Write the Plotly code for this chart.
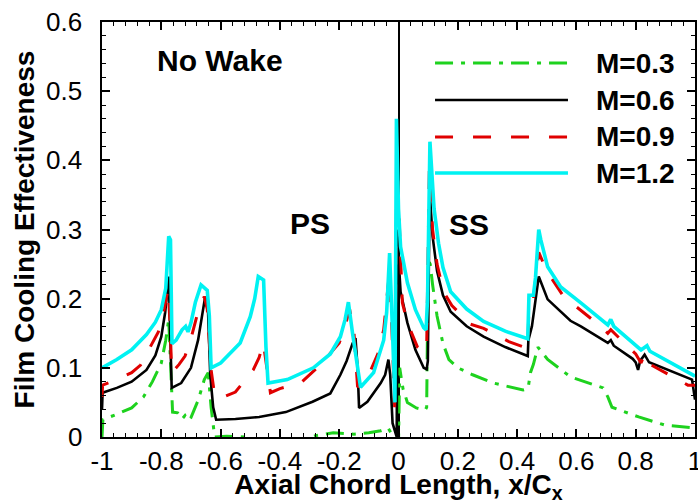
import plotly.graph_objects as go

# ---------------- data ----------------
x_m03 = [-1.0, -0.997, -0.95, -0.9, -0.86, -0.83, -0.80, -0.785, -0.775, -0.768, -0.762, -0.745, -0.73,
         -0.72, -0.71, -0.70, -0.675, -0.655, -0.642, -0.632, -0.62, -0.58, -0.52, -0.45, -0.35, -0.28,
         -0.22, -0.15, -0.10, -0.06, -0.035, -0.02, -0.01, 0.0, 0.004, 0.015, 0.03, 0.06, 0.09, 0.095,
         0.100, 0.107, 0.115, 0.13, 0.15, 0.17, 0.20, 0.25, 0.32, 0.42, 0.437, 0.445, 0.455, 0.47,
         0.503, 0.58, 0.69, 0.706, 0.72, 0.81, 0.9, 1.0]
y_m03 = [0.0, 0.025, 0.033, 0.042, 0.058, 0.08, 0.107, 0.14, 0.17, 0.10, 0.036, 0.035, 0.026,
         0.031, 0.024, 0.028, 0.054, 0.083, 0.093, 0.043, 0.0, 0.001, 0.0, -0.01, -0.01, 0.002,
         0.006, 0.004, 0.006, 0.009, 0.013, 0.002, -0.01, -0.01, 0.10, 0.07, 0.05, 0.042, 0.039, 0.043,
         0.256, 0.25, 0.22, 0.175, 0.135, 0.112, 0.10, 0.09, 0.078, 0.068, 0.07, 0.093, 0.105, 0.13,
         0.112, 0.087, 0.071, 0.058, 0.043, 0.029, 0.017, 0.013]

x_m06 = [-1.0, -0.998, -0.95, -0.9, -0.85, -0.82, -0.80, -0.787, -0.775, -0.77, -0.765, -0.733,
         -0.70, -0.676, -0.652, -0.643, -0.635, -0.625, -0.615, -0.55, -0.47, -0.38, -0.29, -0.23,
         -0.196, -0.175, -0.155, -0.145, -0.138, -0.133, -0.105, -0.06, -0.045, -0.034, -0.028, -0.02,
         -0.006, -0.003, 0.0, 0.007, 0.03, 0.057, 0.085, 0.095, 0.099, 0.105, 0.115, 0.13, 0.15, 0.176,
         0.23, 0.287, 0.36, 0.436, 0.438, 0.45, 0.46, 0.473, 0.503, 0.58, 0.615, 0.706, 0.716, 0.726,
         0.79, 0.80, 0.808, 0.815, 0.83, 0.845, 0.99, 1.0]
y_m06 = [0.04, 0.064, 0.071, 0.080, 0.097, 0.118, 0.145, 0.18, 0.232, 0.15, 0.071, 0.078,
         0.10, 0.14, 0.203, 0.19, 0.09, 0.043, 0.025, 0.026, 0.029, 0.036, 0.051, 0.063,
         0.09, 0.11, 0.135, 0.143, 0.10, 0.042, 0.051, 0.078, 0.09, 0.112, 0.09, 0.02,
         0.0, 0.30, 0.26, 0.21, 0.165, 0.126, 0.10, 0.098, 0.11, 0.355, 0.29, 0.24, 0.205, 0.181,
         0.16, 0.145, 0.13, 0.117, 0.14, 0.16, 0.19, 0.232, 0.199, 0.168, 0.16, 0.136, 0.14, 0.132,
         0.113, 0.108, 0.097, 0.11, 0.119, 0.108, 0.083, 0.054]

x_m09 = [-1.0, -0.998, -0.95, -0.9, -0.87, -0.83, -0.81, -0.79, -0.777, -0.77, -0.765, -0.74, -0.72,
         -0.70, -0.68, -0.655, -0.645, -0.632, -0.62, -0.60, -0.55, -0.49, -0.47, -0.456, -0.445,
         -0.432, -0.40, -0.33, -0.264, -0.2, -0.18, -0.165, -0.15, -0.138, -0.10, -0.07, -0.05, -0.03,
         -0.02, -0.013, -0.005, 0.0, 0.013, 0.03, 0.064, 0.085, 0.095, 0.104, 0.115, 0.13, 0.152, 0.18,
         0.243, 0.287, 0.372, 0.436, 0.44, 0.455, 0.473, 0.5, 0.557, 0.682, 0.706, 0.716, 0.80, 0.818,
         0.83, 0.84, 0.976, 1.0]
y_m09 = [0.058, 0.075, 0.083, 0.093, 0.104, 0.135, 0.152, 0.185, 0.215, 0.16, 0.093, 0.105, 0.117,
         0.142, 0.175, 0.203, 0.185, 0.097, 0.06, 0.056, 0.065, 0.097, 0.115, 0.136, 0.10,
         0.064, 0.07, 0.078, 0.104, 0.136, 0.16, 0.185, 0.15, 0.072, 0.09, 0.12, 0.155, 0.24,
         0.13, 0.043, 0.42, 0.34, 0.194, 0.165, 0.13, 0.122, 0.13, 0.39, 0.30, 0.25, 0.21, 0.19,
         0.163, 0.157, 0.138, 0.128, 0.19, 0.20, 0.267, 0.24, 0.203, 0.16, 0.15, 0.155, 0.12, 0.107,
         0.12, 0.107, 0.075, 0.075]

x_m12 = [-1.0, -0.95, -0.9, -0.85, -0.82, -0.80, -0.785, -0.775, -0.769, -0.764, -0.75, -0.73,
         -0.718, -0.71, -0.70, -0.685, -0.666, -0.645, -0.638, -0.632, -0.60, -0.534, -0.50, -0.485,
         -0.473, -0.455, -0.447, -0.44, -0.375, -0.33, -0.287, -0.23, -0.196, -0.18, -0.169, -0.155,
         -0.128, -0.084, -0.05, -0.04, -0.03, -0.02, -0.012, -0.007, 0.0, 0.007, 0.03, 0.057, 0.085,
         0.093, 0.098, 0.106, 0.11, 0.12, 0.135, 0.15, 0.176, 0.23, 0.287, 0.36, 0.436, 0.44, 0.455,
         0.462, 0.473, 0.48, 0.503, 0.547, 0.615, 0.706, 0.716, 0.726, 0.818, 0.838, 0.848, 1.0]
y_m12 = [0.100, 0.112, 0.126, 0.148, 0.166, 0.184, 0.215, 0.290, 0.285, 0.135, 0.140, 0.155,
         0.160, 0.152, 0.165, 0.195, 0.220, 0.212, 0.175, 0.100, 0.107, 0.136, 0.174, 0.200,
         0.232, 0.227, 0.130, 0.078, 0.083, 0.092, 0.100, 0.120, 0.145, 0.170, 0.195, 0.150,
         0.072, 0.093, 0.140, 0.180, 0.266, 0.150, 0.050, 0.460, 0.330, 0.275, 0.223, 0.184, 0.158,
         0.155, 0.200, 0.427, 0.400, 0.330, 0.280, 0.245, 0.210, 0.185, 0.167, 0.153, 0.142, 0.205, 0.205,
         0.230, 0.300, 0.285, 0.246, 0.217, 0.194, 0.162, 0.170, 0.160, 0.126, 0.132, 0.124, 0.088]

series_names = ["M=0.3", "M=0.6", "M=0.9", "M=1.2"]
series_x = [x_m03, x_m06, x_m09, x_m12]
series_y = [y_m03, y_m06, y_m09, y_m12]

x_tick_vals = [-1, -0.8, -0.6, -0.4, -0.2, 0, 0.2, 0.4, 0.6, 0.8, 1]
x_tick_text = ["-1", "-0.8", "-0.6", "-0.4", "-0.2", "0", "0.2", "0.4", "0.6", "0.8", "1"]
y_tick_vals = [0, 0.1, 0.2, 0.3, 0.4, 0.5, 0.6]
y_tick_text = ["0", "0.1", "0.2", "0.3", "0.4", "0.5", "0.6"]

region_labels = ["No Wake", "PS", "SS"]
region_x = [-0.601, -0.297, 0.237]
region_y = [0.545, 0.309, 0.307]

# ---------------- styles ----------------
colors = ["#1ed21e", "#000000", "#e00000", "#00f2f2"]
widths = [3, 2.6, 3, 3.6]
dashes = ["18px,8px,4px,8px", "solid", "18px,20px", "solid"]
FONT = "Liberation Sans, Arial, Helvetica, sans-serif"
TICK_SIZE = 26

fig = go.Figure()
for xs, ys, name, c, w, d in zip(series_x, series_y, series_names, colors, widths, dashes):
    fig.add_trace(go.Scatter(x=xs, y=ys, mode="lines", name=name,
                             line=dict(color=c, width=w, dash=d), showlegend=False))

# custom legend (long line samples as in the reference)
leg_rows = [0.901, 0.812, 0.723, 0.636]
for name, c, w, d, ry in zip(series_names, colors, widths, dashes, leg_rows):
    fig.add_shape(type="line", xref="paper", yref="paper", x0=0.5616, x1=0.7858, y0=ry, y1=ry,
                  line=dict(color=c, width=w, dash=d))
    fig.add_annotation(text=name, xref="paper", yref="paper", x=0.829, y=ry,
                       xanchor="left", yanchor="middle", showarrow=False,
                       font=dict(family=FONT, size=28, color="black", weight="bold"))

for t, tx, ty in zip(region_labels, region_x, region_y):
    fig.add_annotation(text=t, x=tx, y=ty, xref="x", yref="y", showarrow=False,
                       xanchor="center", yanchor="middle",
                       font=dict(family=FONT, size=30, color="black", weight="bold"))

# y tick labels, placed a little further from the frame than Plotly's default
for v, t in zip(y_tick_vals, y_tick_text):
    fig.add_annotation(text=t, x=-0.031, y=v, xref="paper", yref="y", showarrow=False,
                       xanchor="right", yanchor="middle",
                       font=dict(family=FONT, size=TICK_SIZE, color="black"))

axis_common = dict(showgrid=False, showline=True, linecolor="black", linewidth=2,
                   mirror="ticks", ticks="inside", ticklen=8, tickwidth=1.5, tickcolor="black",
                   ticklabeloverflow="allow",
                   tickfont=dict(family=FONT, size=TICK_SIZE, color="black"))

fig.update_xaxes(range=[-1, 1], tickmode="array", tickvals=x_tick_vals, ticktext=x_tick_text,
                 minor=dict(dtick=0.04, tick0=-1, ticks="inside", ticklen=4, tickwidth=1,
                            tickcolor="black"),
                 zeroline=True, zerolinecolor="black", zerolinewidth=1.5,
                 title=dict(text="Axial Chord Length, x/C<sub>x</sub>", standoff=6,
                            font=dict(family=FONT, size=28, color="black", weight="bold")),
                 automargin=False, **axis_common)
fig.update_yaxes(range=[0, 0.6], tickmode="array", tickvals=y_tick_vals, ticktext=y_tick_text,
                 minor=dict(dtick=0.02, tick0=0, ticks="inside", ticklen=4, tickwidth=1,
                            tickcolor="black"),
                 zeroline=False, showticklabels=False,
                 title=dict(text="Film Cooling Effectiveness", standoff=57,
                            font=dict(family=FONT, size=28, color="black", weight="bold")),
                 automargin=False, **axis_common)

fig.update_layout(width=698, height=504, margin=dict(l=102, r=3, t=22, b=67),
                  paper_bgcolor="white", plot_bgcolor="white", showlegend=False)

fig.write_html("out.html")
